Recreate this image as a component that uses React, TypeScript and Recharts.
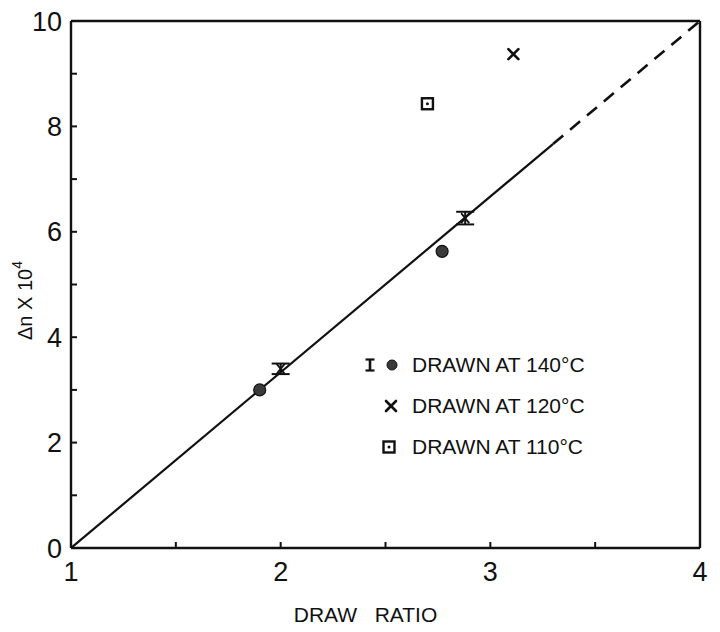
import { ComposedChart, ErrorBar, Legend, Line, Scatter, XAxis, YAxis } from "recharts";

// draw ratio (x) and birefringence Δn×10⁴ (y)
const ratioTicks = [1, 1.5, 2, 2.5, 3, 3.5, 4];
const birefTicks = [0, 1, 2, 3, 4, 5, 6, 7, 8, 9, 10];

const drawn140 = [
    { ratio: 1.9, dn: 3.0 },
    { ratio: 2.77, dn: 5.63 },
];
const drawn140Bars = [
    { ratio: 2.0, dn: 3.4, err: 0.1 },
    { ratio: 2.88, dn: 6.26, err: 0.12 },
];
const drawn120 = [{ ratio: 3.11, dn: 9.37 }];
const drawn110 = [{ ratio: 2.7, dn: 8.43 }];

const fitSolid = [
    { ratio: 1, dn: 0 },
    { ratio: 3.3, dn: 7.67 },
];
const fitDashed = [
    { ratio: 3.3, dn: 7.67 },
    { ratio: 4, dn: 10 },
];

const legendLabels = ["DRAWN AT 140°C", "DRAWN AT 120°C", "DRAWN AT 110°C"];

const FONT = '"Liberation Sans", Arial, sans-serif';
const INK = "#111";

const Dot = ({ cx, cy }: any) => (
    <circle cx={cx} cy={cy} r={6} fill="#3a3a3a" stroke={INK} strokeWidth={1.2} />
);

const Cross = ({ cx, cy }: any) => (
    <g stroke={INK} strokeWidth={2.6} strokeLinecap="round">
        <line x1={cx - 5} y1={cy - 5} x2={cx + 5} y2={cy + 5} />
        <line x1={cx - 5} y1={cy + 5} x2={cx + 5} y2={cy - 5} />
    </g>
);

const BoxDot = ({ cx, cy }: any) => (
    <g>
        <rect x={cx - 5.5} y={cy - 5.5} width={11} height={11} fill="none" stroke={INK} strokeWidth={2.4} />
        <circle cx={cx} cy={cy} r={1.5} fill={INK} />
    </g>
);

const Hourglass = ({ cx, cy }: any) => (
    <g stroke={INK} strokeWidth={1.8}>
        <line x1={cx - 4} y1={cy - 5} x2={cx + 4} y2={cy + 5} />
        <line x1={cx - 4} y1={cy + 5} x2={cx + 4} y2={cy - 5} />
    </g>
);

const LegendBox = () => (
    <div style={{ fontFamily: FONT, fontSize: 21, color: INK }}>
        {legendLabels.map((label, i) => (
            <div key={label} style={{ display: "flex", alignItems: "center", height: 41 }}>
                <svg width={48} height={20} style={{ display: "block" }}>
                    {i === 0 && (
                        <g>
                            <g stroke={INK}>
                                <line x1={6} y1={4} x2={6} y2={16} strokeWidth={2.6} />
                                <line x1={1.5} y1={4.5} x2={10.5} y2={4.5} strokeWidth={2.2} />
                                <line x1={1.5} y1={15.5} x2={10.5} y2={15.5} strokeWidth={2.2} />
                            </g>
                            <circle cx={28} cy={10} r={5} fill="#3a3a3a" stroke={INK} strokeWidth={1} />
                        </g>
                    )}
                    {i === 1 && <Cross cx={27} cy={10} />}
                    {i === 2 && <BoxDot cx={25} cy={10} />}
                </svg>
                <span style={{ whiteSpace: "nowrap" }}>{label}</span>
            </div>
        ))}
    </div>
);

const YTitle = ({ viewBox }: any) => {
    const x = viewBox.x + 25;
    const y = viewBox.y + viewBox.height / 2 + 16;
    return (
        <text x={x} y={y} transform={`rotate(-90 ${x} ${y})`} textAnchor="middle" dominantBaseline="central"
            fontFamily={FONT} fontSize={20} fill={INK}>
            <tspan>Δn X 10</tspan>
            <tspan dy={-8} fontSize={14}>4</tspan>
        </text>
    );
};

const XTitle = ({ viewBox }: any) => (
    <text x={viewBox.x + viewBox.width / 2 - 20} y={viewBox.y + 74} textAnchor="middle"
        fontFamily={FONT} fontSize={21} fill={INK}>
        {"DRAW\u00a0\u00a0 RATIO"}
    </text>
);

export default function App() {
    const tickStyle = { fill: INK, fontSize: 27, fontFamily: FONT };
    const axisStyle = { stroke: INK, strokeWidth: 2.4 };
    const tickLineStyle = { stroke: INK, strokeWidth: 2 };
    return (
        <div style={{ position: "absolute", left: 0, top: 0, width: 720, height: 632, background: "#fff" }}>
            <ComposedChart width={720} height={632} margin={{ top: 20, right: 19, bottom: 0, left: 0 }}>
                <XAxis
                    xAxisId="r"
                    dataKey="ratio"
                    type="number"
                    domain={[1, 4]}
                    allowDataOverflow
                    ticks={ratioTicks}
                    interval={0}
                    tickFormatter={(v: number) => (Number.isInteger(v) ? String(v) : "")}
                    height={84}
                    tickSize={-6}
                    tickMargin={20}
                    tick={tickStyle}
                    axisLine={axisStyle}
                    tickLine={tickLineStyle}
                    label={{ content: XTitle }}
                />
                <XAxis
                    xAxisId="top"
                    orientation="top"
                    dataKey="ratio"
                    type="number"
                    domain={[1, 4]}
                    allowDataOverflow
                    ticks={ratioTicks}
                    interval={0}
                    height={1}
                    tickSize={-6}
                    tick={false}
                    axisLine={axisStyle}
                    tickLine={tickLineStyle}
                />
                <YAxis
                    yAxisId="d"
                    dataKey="dn"
                    type="number"
                    domain={[0, 10]}
                    allowDataOverflow
                    ticks={birefTicks}
                    interval={0}
                    tickFormatter={(v: number) => (v % 2 === 0 ? String(v) : "")}
                    width={71}
                    tickSize={-6}
                    tickMargin={15}
                    tick={tickStyle}
                    axisLine={axisStyle}
                    tickLine={tickLineStyle}
                    label={{ content: YTitle }}
                />
                <YAxis
                    yAxisId="right"
                    orientation="right"
                    dataKey="dn"
                    type="number"
                    domain={[0, 10]}
                    allowDataOverflow
                    ticks={birefTicks}
                    interval={0}
                    width={1}
                    tickSize={-6}
                    tick={false}
                    axisLine={axisStyle}
                    tickLine={tickLineStyle}
                />
                <Legend
                    layout="vertical"
                    align="center"
                    verticalAlign="middle"
                    content={LegendBox}
                    wrapperStyle={{ left: 364, top: 344, width: 260 }}
                />
                <Line xAxisId="r" yAxisId="d" data={fitSolid} dataKey="dn" stroke={INK} strokeWidth={2.2}
                    dot={false} activeDot={false} legendType="none" isAnimationActive={false} />
                <Line xAxisId="r" yAxisId="d" data={fitDashed} dataKey="dn" stroke={INK} strokeWidth={2.6}
                    strokeDasharray="13 9" dot={false} activeDot={false} legendType="none" isAnimationActive={false} />
                <Scatter xAxisId="r" yAxisId="d" data={drawn140Bars} dataKey="dn" shape={Hourglass}
                    legendType="none" isAnimationActive={false}>
                    <ErrorBar dataKey="err" direction="y" width={9} stroke={INK} strokeWidth={2} isAnimationActive={false} />
                </Scatter>
                <Scatter xAxisId="r" yAxisId="d" data={drawn140} dataKey="dn" shape={Dot}
                    legendType="none" isAnimationActive={false} />
                <Scatter xAxisId="r" yAxisId="d" data={drawn120} dataKey="dn" shape={Cross}
                    legendType="none" isAnimationActive={false} />
                <Scatter xAxisId="r" yAxisId="d" data={drawn110} dataKey="dn" shape={BoxDot}
                    legendType="none" isAnimationActive={false} />
            </ComposedChart>
        </div>
    );
}
